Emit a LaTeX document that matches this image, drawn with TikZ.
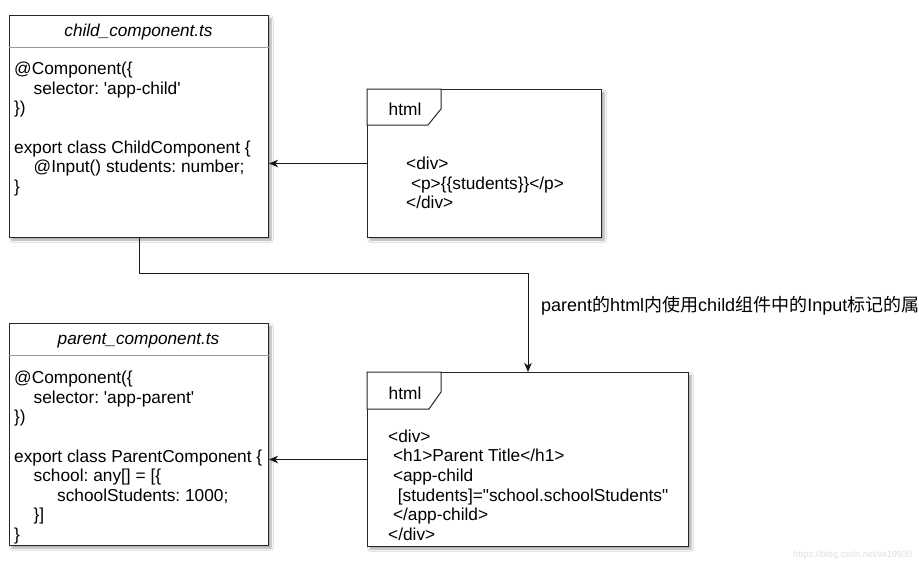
\documentclass[tikz,border=0pt]{standalone}
\usepackage{fontspec}
\setmainfont{Liberation Sans}
\newfontfamily\cjk{Noto Sans CJK SC}
\usetikzlibrary{arrows.meta,shadows,shadows.blur,calc}
\frenchspacing
\begin{document}
\begin{tikzpicture}[x=1pt,y=-1pt,
  box/.style={draw=black!85, line width=1pt, fill=white, rectangle, inner sep=0pt,
    blur shadow={shadow xshift=2.5pt, shadow yshift=-2.5pt, shadow blur steps=6, shadow opacity=35}},
  code/.style={anchor=north west, inner sep=0pt, align=left, font=\fontsize{17.3}{19.6}\selectfont\frenchspacing},
  ttl/.style={anchor=base, inner sep=0pt, font=\fontsize{17.2}{19.6}\selectfont\itshape},
  tabtext/.style={anchor=base, inner sep=0pt, font=\fontsize{17.3}{19.6}\selectfont},
  sep/.style={draw=black!40, line width=0.8pt},
  tab/.style={draw=black!85, line width=1pt, fill=white},
  arr/.style={-{Stealth[length=9pt,width=7.5pt,inset=2.5pt]}, line width=1pt, draw=black!90},
  lbl/.style={anchor=base west, inner sep=0pt, font=\fontsize{18}{20}\selectfont},
  wm/.style={anchor=base west, inner sep=0pt, text=black!12, font=\fontsize{9.2}{11}\selectfont}]
\useasboundingbox (0,0) rectangle (919,563);
\clip (0,0) rectangle (919,563);
\fill[white] (0,0) rectangle (919,563);

% child component box
\node[box, minimum width=259pt, minimum height=222pt, anchor=north west] (child) at (9,15) {};
\draw[sep] ([yshift=-32pt]child.north west) -- ([yshift=-32pt]child.north east);
\node[ttl] (childT) at (138.5,36) {child\_component.ts};
\node[code] (childC) at (14,61.5) {\rule{0pt}{13pt}@Component(\{\\
\hspace*{19.5pt}selector: \textquotesingle app-child\textquotesingle\\
\})\\
\mbox{}\\
export class ChildComponent \{\\
\hspace*{19.5pt}@Input() students: number;\\
\}};

% parent component box
\node[box, minimum width=259pt, minimum height=222pt, anchor=north west] (parent) at (9,323) {};
\draw[sep] ([yshift=-32pt]parent.north west) -- ([yshift=-32pt]parent.north east);
\node[ttl] (parentT) at (138.5,344) {parent\_component.ts};
\node[code] (parentC) at (14,370.5) {\rule{0pt}{13pt}@Component(\{\\
\hspace*{19.5pt}selector: \textquotesingle app-parent\textquotesingle\\
\})\\
\mbox{}\\
export class ParentComponent \{\\
\hspace*{19.5pt}school: any[] = [\{\\
\hspace*{43pt}schoolStudents: 1000;\\
\hspace*{19.5pt}\}]\\
\}};

% html box 1
\node[box, minimum width=234pt, minimum height=148pt, anchor=north west] (h1) at (367,89) {};
\draw[tab] (h1.north west) -- ([xshift=74pt]h1.north west) -- ++(0,20) -- ++(-13,16) -- ([yshift=-36pt]h1.north west) -- cycle;
\node[tabtext] (h1T) at (405,115) {html};
\node[code] (h1C) at (406,156.5) {\rule{0pt}{13pt}<div>\\
\hspace*{4.8pt}<p>\{\{students\}\}</p>\\
</div>};

% html box 2
\node[box, minimum width=321pt, minimum height=174pt, anchor=north west] (h2) at (367,372) {};
\draw[tab] (h2.north west) -- ([xshift=74pt]h2.north west) -- ++(0,20) -- ++(-12,17) -- ([yshift=-37pt]h2.north west) -- cycle;
\node[tabtext] (h2T) at (405,399) {html};
\node[code] (h2C) at (388,429) {\rule{0pt}{13pt}<div>\\
\hspace*{4.8pt}<h1>Parent Title</h1>\\
\hspace*{4.8pt}<app-child\\
\hspace*{9.6pt}[students]=\textquotedbl school.schoolStudents\textquotedbl\\
\hspace*{4.8pt}</app-child>\\
</div>};

% connectors
\draw[arr] (h1.west) -- (h1.west -| child.east);
\draw[arr] (h2.west) -- (h2.west -| parent.east);
\draw[arr] (child.south) -- ++(0,35) -| (h2.north);
\node[lbl] (edgeL) at (541,311) {parent{\cjk 的}html{\cjk 内使用}child{\cjk 组件中的}Input{\cjk 标记的属性}};

% watermark
\node[wm] (wmk) at (793,557) {https://blog.csdn.net/wi19930};
\end{tikzpicture}
\end{document}
